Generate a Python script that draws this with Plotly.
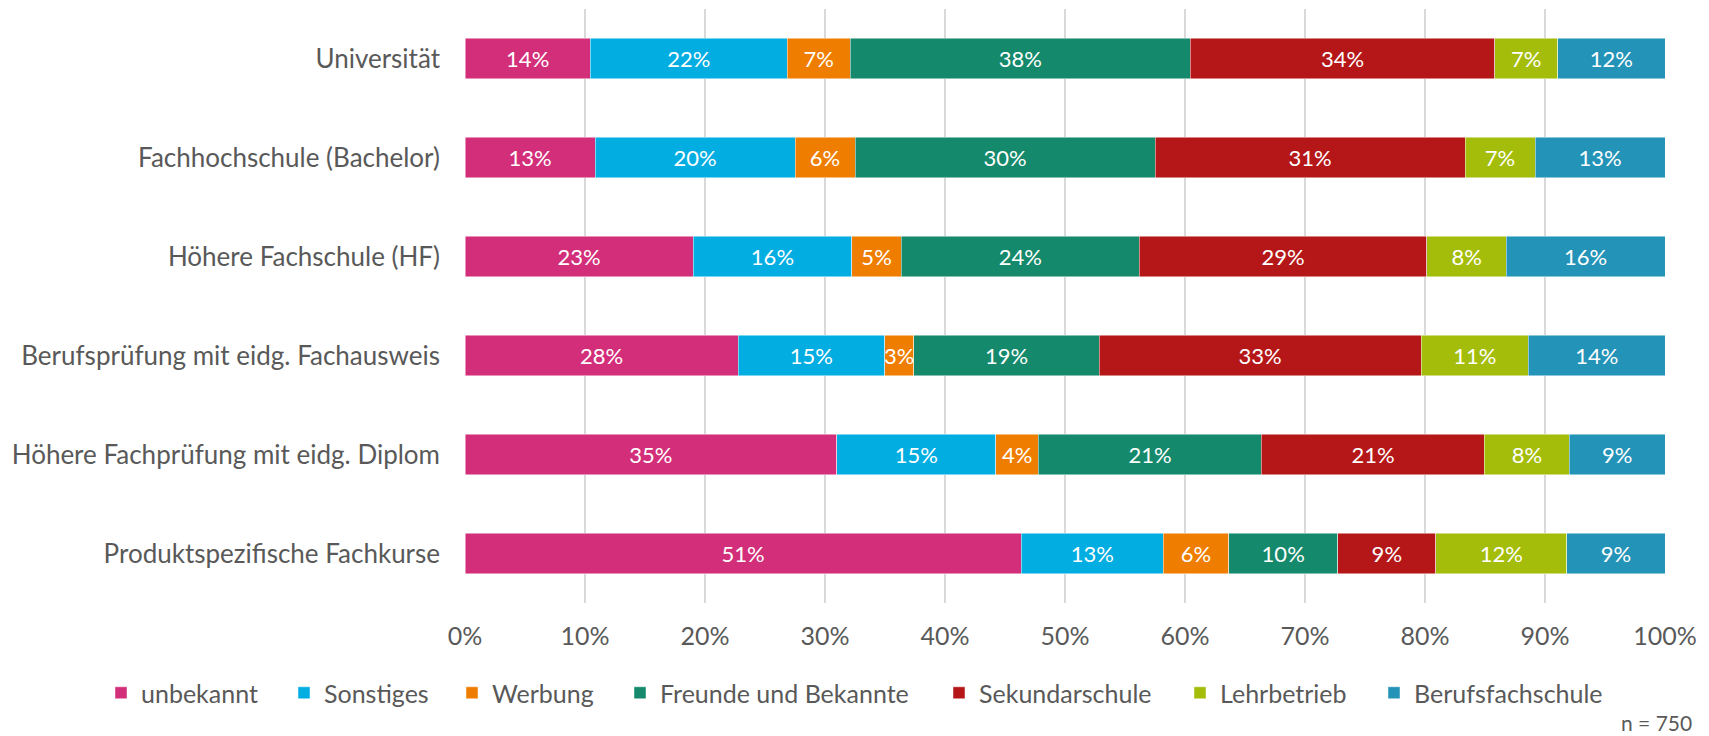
import plotly.graph_objects as go

categories = [
    "Universität",
    "Fachhochschule (Bachelor)",
    "Höhere Fachschule (HF)",
    "Berufsprüfung mit eidg. Fachausweis",
    "Höhere Fachprüfung mit eidg. Diplom",
    "Produktspezifische Fachkurse",
]

series_names = ["unbekannt", "Sonstiges", "Werbung", "Freunde und Bekannte",
                "Sekundarschule", "Lehrbetrieb", "Berufsfachschule"]

unbekannt = [14, 13, 23, 28, 35, 51]
sonstiges = [22, 20, 16, 15, 15, 13]
werbung = [7, 6, 5, 3, 4, 6]
freunde = [38, 30, 24, 19, 21, 10]
sekundarschule = [34, 31, 29, 33, 21, 9]
lehrbetrieb = [7, 7, 8, 11, 8, 12]
berufsfachschule = [12, 13, 16, 14, 9, 9]

series_values = [unbekannt, sonstiges, werbung, freunde,
                 sekundarschule, lehrbetrieb, berufsfachschule]

colors = ["#D32E7A", "#02ADE2", "#EF7D00", "#14896B",
          "#B51718", "#A4BD0A", "#2493B8"]

tick_vals = [0, 10, 20, 30, 40, 50, 60, 70, 80, 90, 100]
tick_labels = [f"{v}%" for v in tick_vals]

# left edge (px) of each legend entry in the 1709 px wide page
legend_x_px = [101, 284, 452, 620, 939, 1180, 1374]

FONT = "Lato, 'Open Sans', sans-serif"
GREY = "#595959"
W, H = 1709, 736
ML, MR, MT, MB = 465, 44, 9, 133

fig = go.Figure()
for i, (name, vals, col) in enumerate(zip(series_names, series_values, colors)):
    fig.add_trace(go.Bar(
        name=name,
        y=categories,
        x=vals,
        orientation="h",
        marker=dict(color=col, line=dict(color="rgba(255,255,255,0.6)", width=0.8)),
        text=[f"{v}%" for v in vals],
        textposition="inside",
        insidetextanchor="middle",
        textangle=0,
        textfont=dict(color="white", size=22, family=FONT),
        hoverinfo="skip",
        legend="legend" if i == 0 else f"legend{i+1}",
    ))

legend_common = dict(
    orientation="h",
    xref="container",
    yref="container",
    xanchor="left",
    y=1 - 693 / H,
    yanchor="middle",
    font=dict(size=25, color=GREY, family=FONT),
    bgcolor="rgba(0,0,0,0)",
    borderwidth=0,
)

layout_legends = {}
for i, px in enumerate(legend_x_px):
    key = "legend" if i == 0 else f"legend{i+1}"
    layout_legends[key] = dict(legend_common, x=px / W)

fig.update_layout(
    barmode="stack",
    barnorm="percent",
    bargap=0.59,
    width=W,
    height=H,
    paper_bgcolor="white",
    plot_bgcolor="white",
    margin=dict(l=ML, r=MR, t=MT, b=MB, autoexpand=False),
    font=dict(family=FONT, color=GREY, size=25),
    uniformtext=dict(minsize=22, mode="show"),
    xaxis=dict(
        range=[0, 100],
        tickvals=tick_vals,
        ticktext=tick_labels,
        showgrid=True,
        gridcolor="#D9D9D9",
        gridwidth=2,
        zeroline=False,
        showline=False,
        ticks="",
        ticklabelstandoff=16,
        tickfont=dict(size=25, color=GREY, family=FONT),
        automargin=False,
        fixedrange=True,
    ),
    yaxis=dict(
        categoryorder="array",
        categoryarray=categories,
        autorange="reversed",
        showgrid=False,
        ticks="",
        ticklabelstandoff=24,
        tickfont=dict(size=26, color=GREY, family=FONT),
        automargin=False,
        fixedrange=True,
    ),
    showlegend=True,
    **layout_legends,
)

fig.add_annotation(
    text="n = 750",
    xref="paper", yref="paper",
    x=(1694 - ML) / (W - ML - MR),
    y=-(722 - (H - MB)) / (H - MT - MB),
    xanchor="right", yanchor="middle",
    showarrow=False,
    font=dict(size=21, color=GREY, family=FONT),
)

fig.write_html("out.html",
               config={"displayModeBar": False},
               post_script="document.body.style.margin='0';")
